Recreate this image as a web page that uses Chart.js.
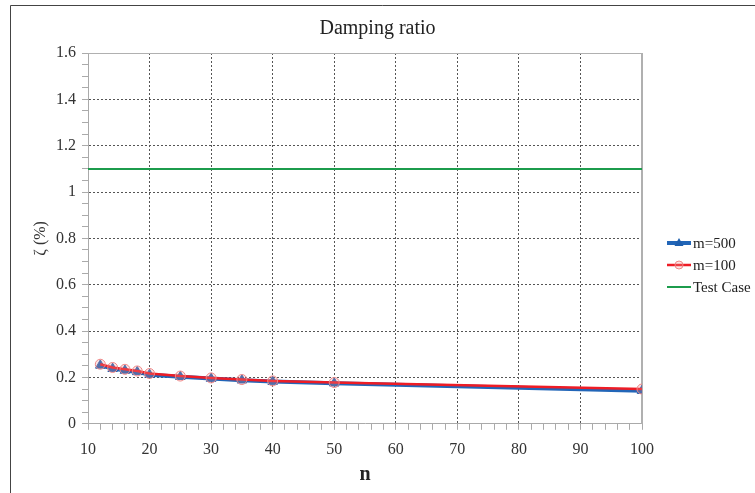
<!DOCTYPE html>
<html>
<head>
<meta charset="utf-8">
<script src="https://cdn.jsdelivr.net/npm/chart.js@4/dist/chart.umd.min.js"></script>
<style>
  html, body { margin: 0; padding: 0; background: #fff; }
  #wrap { width: 755px; height: 493px; }
</style>
</head>
<body>
<div id="wrap"><canvas id="chart" width="755" height="493"></canvas></div>
<script>
// values
const nValues = [12, 14, 16, 18, 20, 25, 30, 35, 40, 50, 100];
const m500 = [0.252, 0.238, 0.230, 0.224, 0.212, 0.203, 0.195, 0.188, 0.182, 0.175, 0.143];
const m100 = [0.257, 0.243, 0.235, 0.228, 0.217, 0.206, 0.198, 0.191, 0.185, 0.178, 0.150];
const testN = [10, 100];
const testCase = [1.1, 1.1];
const seriesLabels = ['m=500', 'm=100', 'Test Case'];

const serif = "'Liberation Serif', 'DejaVu Serif', serif";

const toPoints = (xs, ys) => xs.map((x, i) => ({ x: x, y: ys[i] }));
const near = (v, step) => Math.abs(v / step - Math.round(v / step)) < 1e-6;

// outer frame (left + top only, like the source image) and plot frame
const framePlugin = {
  id: 'frame',
  beforeDraw(chart) {
    const ctx = chart.ctx;
    ctx.save();
    ctx.strokeStyle = '#444';
    ctx.lineWidth = 1;
    ctx.beginPath();
    ctx.moveTo(10.5, 493);
    ctx.lineTo(10.5, 5.5);
    ctx.lineTo(755, 5.5);
    ctx.stroke();
    ctx.restore();
  },
  beforeDatasetsDraw(chart) {
    const a = chart.chartArea;
    const ctx = chart.ctx;
    ctx.save();
    ctx.strokeStyle = '#b0b0b0';
    ctx.lineWidth = 1;
    ctx.beginPath();
    ctx.moveTo(a.left, a.top + 0.5);
    ctx.lineTo(a.right, a.top + 0.5);
    ctx.stroke();
    ctx.lineWidth = 2;
    ctx.beginPath();
    ctx.moveTo(a.right, a.top);
    ctx.lineTo(a.right, a.bottom);
    ctx.stroke();
    ctx.restore();
  }
};

// legend with line + marker samples
const lineLegend = {
  id: 'lineLegend',
  afterDraw(chart) {
    const ctx = chart.ctx;
    const x0 = 667, x1 = 691, y0 = 243, gap = 22;
    ctx.save();
    chart.data.datasets.forEach((ds, i) => {
      const y = y0 + i * gap;
      ctx.strokeStyle = ds.borderColor;
      ctx.lineWidth = ds.borderWidth;
      ctx.beginPath();
      ctx.moveTo(x0, y);
      ctx.lineTo(x1, y);
      ctx.stroke();
      const cx = (x0 + x1) / 2;
      if (ds.pointStyle === 'triangle') {
        ctx.fillStyle = ds.pointBackgroundColor;
        ctx.beginPath();
        ctx.moveTo(cx, y - 5);
        ctx.lineTo(cx + 4.5, y + 3);
        ctx.lineTo(cx - 4.5, y + 3);
        ctx.closePath();
        ctx.fill();
      } else if (ds.pointRadius > 0) {
        ctx.strokeStyle = ds.pointBorderColor;
        ctx.fillStyle = ds.pointBackgroundColor;
        ctx.lineWidth = 1;
        ctx.beginPath();
        ctx.arc(cx, y, 4, 0, Math.PI * 2);
        ctx.fill();
        ctx.stroke();
      }
      ctx.fillStyle = '#222';
      ctx.font = '15px ' + serif;
      ctx.textBaseline = 'middle';
      ctx.fillText(ds.label, x1 + 2, y + 1);
    });
    ctx.restore();
  }
};

new Chart(document.getElementById('chart'), {
  type: 'line',
  data: {
    datasets: [
      {
        label: seriesLabels[0],
        data: toPoints(nValues, m500),
        borderColor: '#2266b8',
        borderWidth: 4,
        pointStyle: 'triangle',
        pointRadius: 5.5,
        pointBackgroundColor: '#1f5fae',
        pointBorderColor: '#1f5fae',
        pointBorderWidth: 1,
        order: 1
      },
      {
        label: seriesLabels[1],
        data: toPoints(nValues, m100),
        borderColor: '#ee1c25',
        borderWidth: 2.5,
        pointStyle: 'circle',
        pointRadius: 5,
        pointBackgroundColor: 'rgba(240,150,150,0.25)',
        pointBorderColor: '#f08888',
        pointBorderWidth: 1,
        order: 0
      },
      {
        label: seriesLabels[2],
        data: toPoints(testN, testCase),
        borderColor: '#1c9c4c',
        borderWidth: 2,
        pointRadius: 0,
        order: 2
      }
    ]
  },
  options: {
    responsive: false,
    animation: false,
    layout: { padding: { left: 0, right: 0, top: 9, bottom: 6 } },
    plugins: {
      legend: { display: false },
      tooltip: { enabled: false },
      title: {
        display: true,
        text: 'Damping ratio',
        color: '#222',
        font: { family: serif, size: 20, weight: 'normal' },
        padding: { top: 8, bottom: 12 }
      }
    },
    scales: {
      x: {
        type: 'linear',
        min: 10,
        max: 100,
        border: { color: '#aaa', dash: [2, 2] },
        grid: {
          color: c => (c.tick && near(c.tick.value, 10) && c.tick.value > 10 && c.tick.value < 100) ? '#555' : 'rgba(0,0,0,0)',
          tickColor: '#aaa',
          tickLength: 6,
          lineWidth: 1
        },
        ticks: {
          stepSize: 2,
          maxTicksLimit: 1000,
          autoSkip: false,
          maxRotation: 0,
          padding: 10,
          color: '#333',
          font: { family: serif, size: 16 },
          callback: v => near(v, 10) ? String(Math.round(v)) : ''
        },
        title: {
          display: true,
          text: 'n',
          color: '#222',
          font: { family: serif, size: 20, weight: 'bold' },
          padding: { top: -6, bottom: 0 }
        }
      },
      y: {
        min: 0,
        max: 1.6,
        afterFit: s => { s.width = 88; },
        border: { color: '#aaa', dash: [2, 2] },
        grid: {
          color: c => (c.tick && near(c.tick.value, 0.2) && c.tick.value > 0.01 && c.tick.value < 1.59) ? '#555' : 'rgba(0,0,0,0)',
          tickColor: '#aaa',
          tickLength: 6,
          lineWidth: 1
        },
        ticks: {
          stepSize: 0.05,
          maxTicksLimit: 1000,
          autoSkip: false,
          padding: 6,
          color: '#333',
          font: { family: serif, size: 16 },
          callback: v => near(v, 0.2) ? String(Math.round(v * 10) / 10) : ''
        },
        title: {
          display: true,
          text: 'ζ (%)',
          color: '#333',
          font: { family: serif, size: 16 },
          padding: { top: 31, bottom: 0 }
        }
      },
      // empty right-hand scale that only reserves room for the legend
      side: {
        position: 'right',
        afterFit: s => { s.width = 113; },
        grid: { display: false },
        border: { display: false },
        ticks: { display: false }
      }
    }
  },
  plugins: [framePlugin, lineLegend]
});
</script>
</body>
</html>
